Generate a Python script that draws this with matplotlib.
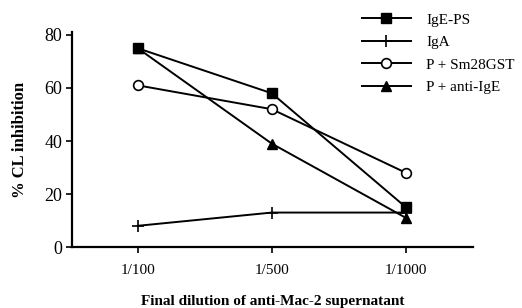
import numpy as np
import matplotlib.pyplot as plt

plt.rcParams['font.family'] = ['Liberation Serif', 'DejaVu Serif']

dilutions = ['1/100', '1/500', '1/1000']
ige_ps = [75, 58, 15]
iga = [8, 13, 13]
p_sm28gst = [61, 52, 28]
p_anti_ige = [75, 39, 11]

x = np.arange(len(dilutions))

fig = plt.figure(figsize=(5.22, 3.08), dpi=100)
ax = fig.add_axes([0.138, 0.198, 0.768, 0.697])

kw = dict(color='black', linewidth=1.4, markersize=7)
ax.plot(x, ige_ps, marker='s', markerfacecolor='black', label='IgE-PS', **kw)
ax.plot(x, iga, marker='+', markersize=8, color='black', linewidth=1.4,
        markeredgewidth=1.2, label='IgA')
ax.plot(x, p_sm28gst, marker='o', markerfacecolor='white', markeredgewidth=1.2,
        label='P + Sm28GST', **kw)
ax.plot(x, p_anti_ige, marker='^', markerfacecolor='black', label='P + anti-IgE', **kw)

ax.set_xlim(-0.49, 2.5)
ax.set_ylim(0, 81)
ax.set_xticks(x)
ax.set_xticklabels(dilutions, fontsize=11)
ax.set_yticks([0, 20, 40, 60, 80])
ax.tick_params(axis='y', labelsize=13, direction='out', length=4, width=1.2, pad=3)
ax.tick_params(axis='x', direction='out', length=4, width=1.2, pad=8)
for s in ['top', 'right']:
    ax.spines[s].set_visible(False)
for s in ['left', 'bottom']:
    ax.spines[s].set_linewidth(1.6)

ax.set_ylabel('% CL inhibition', fontsize=12, fontweight='bold', labelpad=12)
ax.set_xlabel('Final dilution of anti-Mac-2 supernatant', fontsize=11,
              fontweight='bold', labelpad=13)

ax.legend(loc='upper left', bbox_to_anchor=(362 / 522, 1 - 13 / 308),
          bbox_transform=fig.transFigure, frameon=False, borderpad=0,
          borderaxespad=0, fontsize=11, handlelength=3.2, labelspacing=0.58,
          handletextpad=1.0)

fig.savefig('out.png', dpi=100)
